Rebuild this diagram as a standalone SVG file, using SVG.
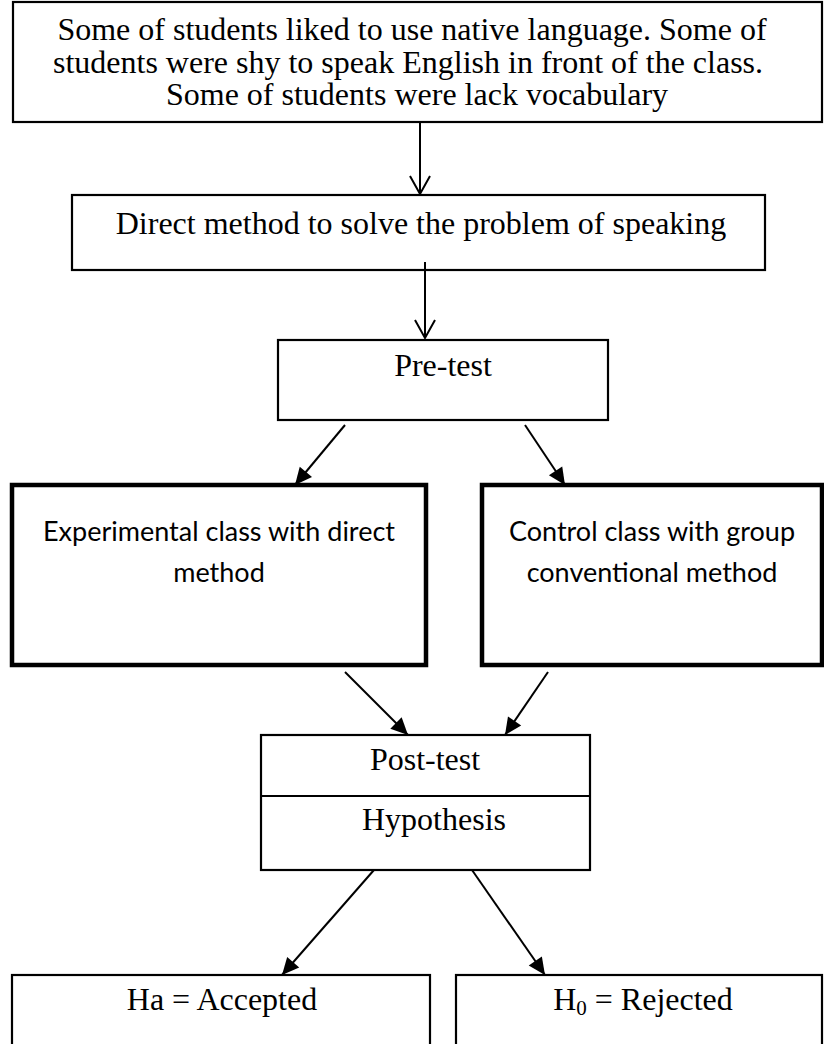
<svg xmlns="http://www.w3.org/2000/svg" width="824" height="1044" viewBox="0 0 824 1044">
  <style>
    .box { fill: #ffffff; stroke: #000000; stroke-width: 2.2; }
    .thick { fill: #ffffff; stroke: #000000; stroke-width: 4.5; }
    .serif { font-family: "Liberation Serif", "Times New Roman", serif; font-size: 32px; fill: #000000; text-anchor: middle; }
    .sans { font-family: Lato, "Liberation Sans", sans-serif; font-size: 27px; fill: #000000; text-anchor: middle; }
    .line { stroke: #000000; stroke-width: 2; fill: none; }
  </style>
  <defs>
    <marker id="open" markerUnits="userSpaceOnUse" markerWidth="20" markerHeight="24" refX="18" refY="10" orient="auto" overflow="visible">
      <path d="M0,0 L18,10 L0,20" fill="none" stroke="#000" stroke-width="2"/>
    </marker>
    <marker id="filled" markerUnits="userSpaceOnUse" markerWidth="18" markerHeight="16" refX="17" refY="8" orient="auto" overflow="visible">
      <path d="M0,0 L17,8 L0,16 z" fill="#000"/>
    </marker>
  </defs>
  <rect width="824" height="1044" fill="#ffffff"/>

  <g id="problem">
    <rect class="box" x="13" y="2" width="809" height="120"/>
    <text class="serif" x="412" y="40" font-size="30">Some of students liked to use native language. Some of</text>
    <text class="serif" x="408" y="73" font-size="30">students were shy to speak English in front of the class.</text>
    <text class="serif" x="417" y="105" font-size="30">Some of students were lack vocabulary</text>
  </g>

  <g id="direct-method">
    <rect class="box" x="72" y="195" width="693" height="75"/>
    <text class="serif" x="421" y="234" font-size="34.5">Direct method to solve the problem of speaking</text>
  </g>

  <g id="pre-test">
    <rect class="box" x="278" y="340" width="330" height="80"/>
    <text class="serif" x="443" y="376" font-size="31">Pre-test</text>
  </g>

  <g id="experimental">
    <rect class="thick" x="12" y="485" width="414" height="180"/>
    <text class="sans" x="219" y="541">Experimental class with direct</text>
    <text class="sans" x="219" y="582">method</text>
  </g>

  <g id="control">
    <rect class="thick" x="482" y="485" width="340" height="180"/>
    <text class="sans" x="652" y="541">Control class with group</text>
    <text class="sans" x="652" y="582">conventional method</text>
  </g>

  <g id="post-test">
    <rect class="box" x="261" y="735" width="329" height="135"/>
    <line class="line" x1="261" y1="796" x2="590" y2="796"/>
    <text class="serif" x="425" y="770" font-size="29">Post-test</text>
    <text class="serif" x="434" y="830">Hypothesis</text>
  </g>

  <g id="accepted">
    <rect class="box" x="12" y="975" width="418" height="90"/>
    <text class="serif" x="222" y="1010">Ha = Accepted</text>
  </g>

  <g id="rejected">
    <rect class="box" x="456" y="975" width="366" height="90"/>
    <text class="serif" x="643" y="1010">H<tspan font-size="21" dy="5">0</tspan><tspan dy="-5"> = Rejected</tspan></text>
  </g>

  <g id="connectors">
    <line class="line" x1="420" y1="122" x2="420" y2="194" marker-end="url(#open)"/>
    <line class="line" x1="425" y1="262" x2="425" y2="338" marker-end="url(#open)"/>
    <line class="line" x1="345" y1="425" x2="295" y2="485" marker-end="url(#filled)"/>
    <line class="line" x1="525" y1="425" x2="565" y2="485" marker-end="url(#filled)"/>
    <line class="line" x1="345" y1="672" x2="408" y2="735" marker-end="url(#filled)"/>
    <line class="line" x1="548" y1="672" x2="505" y2="735" marker-end="url(#filled)"/>
    <line class="line" x1="374" y1="870" x2="282" y2="975" marker-end="url(#filled)"/>
    <line class="line" x1="472" y1="870" x2="545" y2="975" marker-end="url(#filled)"/>
  </g>
</svg>
